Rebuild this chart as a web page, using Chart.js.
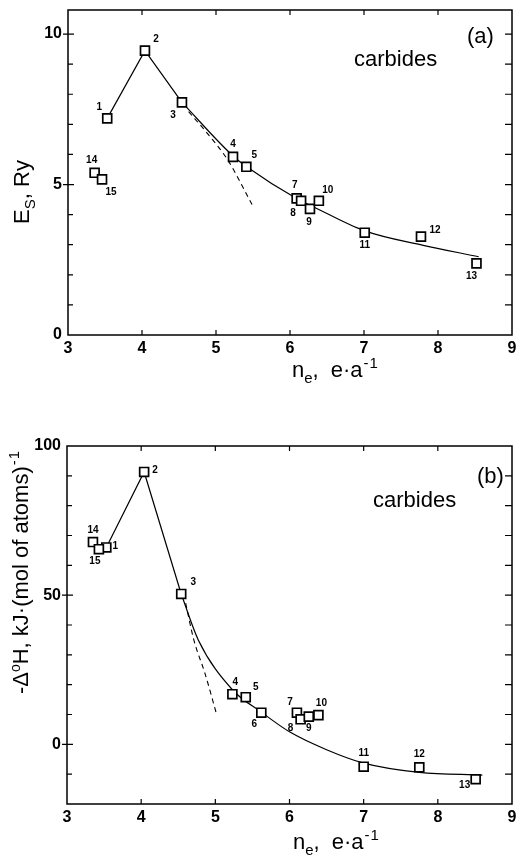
<!DOCTYPE html>
<html>
<head>
<meta charset="utf-8">
<script src="https://cdn.jsdelivr.net/npm/chart.js@4.4.1/dist/chart.umd.min.js"></script>
<style>
body{margin:0;background:#fff;width:520px;height:862px;position:relative;overflow:hidden;font-family:"Liberation Sans",Arial,sans-serif;color:#000}
canvas{position:absolute;left:0}
.t{position:absolute;font-size:22px;line-height:22px;white-space:nowrap}
.rot{transform:translate(-50%,-50%) rotate(-90deg)}
.sub{font-size:15px;position:relative;top:6px}
.sup{font-size:15px;position:relative;top:-9px;letter-spacing:1px;margin-left:1px}
.deg{font-size:14px;position:relative;top:-8px}
.gap{margin-left:12px}
</style>
</head>
<body>
<canvas id="chartA" width="520" height="400" style="top:0"></canvas>
<canvas id="chartB" width="520" height="462" style="top:400px"></canvas>

<div class="t rot" style="left:23px;top:192px">E<span class="sub">S</span>, Ry</div>
<div class="t" style="left:292px;top:359px">n<span class="sub">e</span>,<span class="gap">e·a</span><span class="sup">-1</span></div>
<div class="t" style="left:354px;top:48px">carbides</div>
<div class="t" style="left:467px;top:25px">(a)</div>

<div class="t rot" style="left:22px;top:572px">-Δ<span class="deg">o</span>H, kJ·(mol of atoms)<span class="sup">-1</span></div>
<div class="t" style="left:293px;top:831px">n<span class="sub">e</span>,<span class="gap">e·a</span><span class="sup">-1</span></div>
<div class="t" style="left:373px;top:489px">carbides</div>
<div class="t" style="left:477px;top:465px">(b)</div>

<script>
// (a) surface energy E_S, Ry vs n_e
const esNo = ["1","2","3","4","5","7","8","9","10","11","12","13","14","15"];
const esX = [3.53,4.04,4.54,5.23,5.41,6.09,6.15,6.27,6.39,7.01,7.77,8.52,3.36,3.46];
const esY = [7.2,9.45,7.73,5.92,5.59,4.54,4.46,4.19,4.46,3.40,3.27,2.38,5.39,5.17];
const esPeakX = [3.53,4.04,4.54];
const esPeakY = [7.2,9.45,7.73];
const esCurveX = [4.54,5.23,5.41,6.1,6.3,7.0,7.8,8.55];
const esCurveY = [7.73,5.95,5.6,4.52,4.28,3.47,2.98,2.6];
const esDashX = [4.63,4.9,5.16,5.49];
const esDashY = [7.42,6.65,5.81,4.32];
const esTicksY = [0,5,10];

// (b) heat of formation -dH vs n_e
const dhNo = ["1","2","3","4","5","6","7","8","9","10","11","12","13","14","15"];
const dhX = [3.53,4.04,4.54,5.23,5.41,5.62,6.10,6.15,6.26,6.39,7.00,7.75,8.51,3.35,3.43];
const dhY = [66.0,91.3,50.4,16.8,15.8,10.6,10.6,8.4,9.3,9.8,-7.5,-7.7,-11.7,67.8,65.4];
const dhPeakX = [3.53,4.04,4.54];
const dhPeakY = [66.0,91.3,50.4];
const dhCurveX = [4.54,4.77,5.23,5.62,6.0,6.5,7.0,7.75,8.6];
const dhCurveY = [50.4,35,18.3,10.8,4.2,-1.8,-6.3,-9.4,-10.3];
const dhDashX = [4.6,4.71,4.86,5.02];
const dhDashY = [47.3,35,23.8,9.8];
const dhTicksY = [0,50,100];

// label offsets (px) for the point numbers
const esLabelOff = [[-8,-11],[11,-11],[-9,13],[0,-13],[8,-12],[-2,-13],[-8,12],[-1,13],[9,-11],[0,13],[14,-6],[-5,13],[-3,-13],[9,13]];
const dhLabelOff = [[9,-1],[11,-2],[12,-12],[3,-12],[10,-10],[-7,12],[-7,-10],[-10,9],[0,12],[3,-12],[0,-13],[0,-13],[-11,6],[0,-12],[-4,12]];

Chart.defaults.font.family = "'Liberation Sans', Arial, sans-serif";
Chart.defaults.color = "#000";

const pts = (xs, ys) => xs.map((x, i) => ({x: x, y: ys[i]}));

// frame with inward ticks + point number labels
const framePlugin = {
    id: "frame",
    afterDatasetsDraw(chart, args, opts) {
        const ctx = chart.ctx;
        const a = chart.chartArea;
        const xs = chart.scales.x, ys = chart.scales.y;
        ctx.save();
        ctx.strokeStyle = "#000";
        ctx.lineWidth = 1.5;
        ctx.strokeRect(a.left, a.top, a.right - a.left, a.bottom - a.top);
        ctx.lineWidth = 1.2;
        ctx.beginPath();
        for (let v = opts.yMin + opts.yStep; v <= opts.yTop; v += opts.yStep) {
            const py = ys.getPixelForValue(v);
            if (opts.major.includes(v)) {
                ctx.moveTo(a.left - 5, py); ctx.lineTo(a.left + 6, py);
            } else {
                ctx.moveTo(a.left, py); ctx.lineTo(a.left + 5, py);
            }
            ctx.moveTo(a.right, py); ctx.lineTo(a.right - 7, py);
        }
        for (let v = 4; v <= 8; v++) {
            const px = xs.getPixelForValue(v);
            ctx.moveTo(px, a.top); ctx.lineTo(px, a.top + 5);
            ctx.moveTo(px, a.bottom); ctx.lineTo(px, a.bottom - 5);
        }
        ctx.stroke();

        // point numbers
        const ds = chart.data.datasets[0];
        ctx.font = "bold 10px 'Liberation Sans', Arial, sans-serif";
        ctx.fillStyle = "#000";
        ctx.textAlign = "center";
        ctx.textBaseline = "middle";
        ds.data.forEach((p, i) => {
            const px = xs.getPixelForValue(p.x) + opts.off[i][0];
            const py = ys.getPixelForValue(p.y) + opts.off[i][1];
            ctx.fillText(opts.names[i], px, py);
        });
        ctx.restore();
    }
};

function makeChart(id, o) {
    return new Chart(document.getElementById(id), {
        type: "scatter",
        data: {
            datasets: [
                {
                    data: pts(o.x, o.y),
                    pointStyle: "rect",
                    pointRadius: 6.3,
                    pointBorderWidth: 1.7,
                    pointBorderColor: "#000",
                    pointBackgroundColor: "#fff",
                    order: 0
                },
                {
                    data: pts(o.peakX, o.peakY),
                    showLine: true,
                    borderColor: "#000",
                    borderWidth: 1.2,
                    pointRadius: 0,
                    tension: 0,
                    order: 1
                },
                {
                    data: pts(o.curveX, o.curveY),
                    showLine: true,
                    borderColor: "#000",
                    borderWidth: 1.2,
                    pointRadius: 0,
                    cubicInterpolationMode: "monotone",
                    order: 1
                },
                {
                    data: pts(o.dashX, o.dashY),
                    showLine: true,
                    borderColor: "#000",
                    borderWidth: 1.1,
                    borderDash: [5, 4],
                    pointRadius: 0,
                    cubicInterpolationMode: "monotone",
                    order: 1
                }
            ]
        },
        options: {
            responsive: false,
            animation: false,
            events: [],
            layout: { padding: o.pad },
            plugins: {
                legend: { display: false },
                tooltip: { enabled: false },
                frame: {
                    yMin: o.yMin, yTop: o.yTop, yStep: o.yStep,
                    major: o.ticksY, names: o.names, off: o.off
                }
            },
            scales: {
                x: {
                    type: "linear", min: 3, max: 9,
                    ticks: { stepSize: 1, padding: 4, font: { size: 16, weight: "bold" } },
                    grid: { display: false, drawTicks: false },
                    border: { display: false },
                    afterFit(s) { s.height = o.xHeight; s.paddingLeft = 0; s.paddingRight = 0; }
                },
                y: {
                    type: "linear", min: o.yMin, max: o.yMax,
                    afterBuildTicks(s) { s.ticks = o.ticksY.map(v => ({ value: v })); },
                    ticks: { padding: 6, font: { size: 16, weight: "bold" } },
                    grid: { display: false, drawTicks: false },
                    border: { display: false },
                    afterFit(s) { s.width = o.yWidth; s.paddingTop = 0; s.paddingBottom = 0; }
                }
            }
        },
        plugins: [framePlugin]
    });
}

makeChart("chartA", {
    x: esX, y: esY, names: esNo, off: esLabelOff,
    peakX: esPeakX, peakY: esPeakY,
    curveX: esCurveX, curveY: esCurveY,
    dashX: esDashX, dashY: esDashY,
    ticksY: esTicksY, yMin: 0, yMax: 10.8, yTop: 10, yStep: 1,
    pad: { left: 0, right: 3, top: 10, bottom: 0 },
    xHeight: 65, yWidth: 68
});

makeChart("chartB", {
    x: dhX, y: dhY, names: dhNo, off: dhLabelOff,
    peakX: dhPeakX, peakY: dhPeakY,
    curveX: dhCurveX, curveY: dhCurveY,
    dashX: dhDashX, dashY: dhDashY,
    ticksY: dhTicksY, yMin: -20, yMax: 100, yTop: 90, yStep: 10,
    pad: { left: 0, right: 4, top: 46, bottom: 0 },
    xHeight: 58, yWidth: 67
});
</script>
</body>
</html>
